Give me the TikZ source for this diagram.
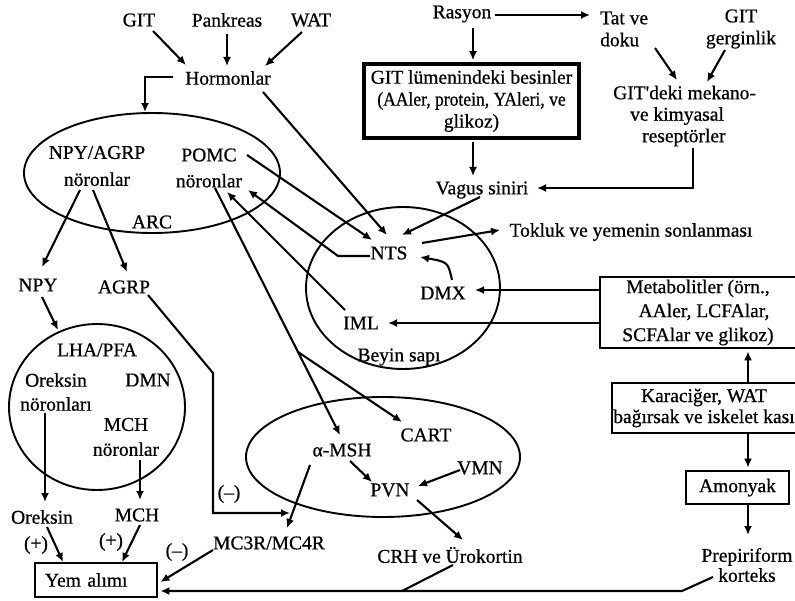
\documentclass[tikz,border=0pt]{standalone}
\usepackage{fontspec}
\usepackage{graphicx}
\setmainfont{Liberation Serif}[FakeBold=0.7]
\usetikzlibrary{arrows.meta,shapes.geometric,calc}
\newcommand\fz[1]{\fontsize{19.5}{#1}\selectfont}
\begin{document}
\begin{tikzpicture}[x=1pt,y=-1pt,
  txt/.style={inner sep=0pt, font=\fz{22}, align=center},
  arr/.style={line width=2.1pt, -{Latex[length=9pt,width=8pt]}},
  ln/.style={line width=2.1pt},
  ell/.style={draw, ellipse, line width=1.9pt, inner sep=0pt},
  box/.style={draw, rectangle, line width=2.8pt, inner sep=0pt, align=center, font=\fz{22}}]
\useasboundingbox (0,0) rectangle (795,601);
% regions
\node[ell, minimum width=256, minimum height=120] (arcell) at (152,173) {};
\node[ell, minimum width=176, minimum height=166] (lhac) at (97,407) {};
\node[ell, minimum width=274, minimum height=120] (hyp) at (383,457) {};
\node[ell, minimum width=194, minimum height=162] (bs) at (403,288) {};
% texts
\node[txt] (git) at (139,20) {GIT};
\node[txt] (pank) at (227,20) {Pankreas};
\node[txt] (wat) at (311,20) {WAT};
\node[txt] (hor) at (228,78) {Hormonlar};
\node[txt, font=\fz{27}] (npyagrp) at (97,166) {NPY/AGRP\\nöronlar};
\node[txt, font=\fz{26}] (pomc) at (209,168) {POMC\\nöronlar};
\node[txt] (arc) at (152,222) {ARC};
\node[txt] (npy) at (38,285) {NPY};
\node[txt] (agrp) at (124,287) {AGRP};
\node[txt] (lha) at (97,350) {LHA/PFA};
\node[txt, font=\fz{24}] (orekn) at (56,392) {Oreksin\\nöronları};
\node[txt] (dmn) at (148,380) {DMN};
\node[txt, font=\fz{25}] (mchn) at (126,437) {MCH\\nöronlar};
\node[txt] (orek) at (42,517) {Oreksin};
\node[txt] (mch) at (137,515) {MCH};
\node[txt] (p1) at (36,545) {(+)};
\node[txt] (p2) at (111,542) {(+)};
\node[box, minimum height=34, text width=102, inner xsep=10pt, align=left] (yem) at (96,580) {Yem alımı};
\node[txt] (m1) at (177,552) {(–)};
\node[txt] (mc) at (269,543) {MC3R/MC4R};
\node[txt] (m2) at (229,494) {(–)};
\node[txt] (msh) at (342,450) {α-MSH};
\node[txt] (cart) at (426,435) {CART};
\node[txt] (vmn) at (480,468) {VMN};
\node[txt] (pvn) at (390,490) {PVN};
\node[txt] (crh) at (450,555) {CRH ve Ürokortin};
\node[txt] (nts) at (389,253) {NTS};
\node[txt] (dmx) at (443,293) {DMX};
\node[txt] (iml) at (361,323) {IML};
\node[txt] (beyin) at (399,357) {Beyin sapı};
\node[txt] (tok) at (631,232) {Tokluk ve yemenin sonlanması};
\node[txt] (vagus) at (482,190) {Vagus siniri};
\node[txt] (ras) at (462,14) {Rasyon};
\node[box, line width=3.5pt, minimum width=215, minimum height=74] (gitbox) at (471.5,101) {GIT lümenindeki besinler\\\scalebox{0.9}[1]{(AAler, protein, YAleri, ve}\\glikoz)};
\node[txt, align=left, anchor=west] (tat) at (600,29) {Tat ve\\doku};
\node[txt] (gerg) at (741,29) {GIT\\gerginlik};
\node[txt, align=left, anchor=west, font=\fz{21.5}] (gitd) at (613,116) {GIT\textquotesingle deki mekano-\\\hspace*{17pt}ve kimyasal\\\hspace*{29pt}reseptörler};
\node[box, minimum width=196, minimum height=71, font=\fz{24}] (met) at (698,312.5) {Metabolitler (örn.,\\\hspace*{12pt}AAler, LCFAlar,\\SCFAlar ve glikoz)};
\node[box, minimum width=184, minimum height=50, font=\fz{21}] (kar) at (704,408) {Karaciğer, WAT\\bağırsak ve iskelet kası};
\node[box, minimum width=103, minimum height=33] (amo) at (737.5,487.5) {Amonyak};
\node[txt, font=\fz{20}] (prep) at (747,565) {Prepiriform\\korteks};
% connectors
\draw[arr] ($(git)+(14,11)$) -- ($(hor)+(-42,-13)$);
\draw[arr] ($(pank)+(0,14)$) -- ($(hor)+(-1,-12)$);
\draw[arr] ($(wat)+(-9,12)$) -- ($(hor)+(37,-12)$);
\draw[arr] ($(hor)+(-55,-1)$) -| ($(arcell.north)+(-7,0)$);
\draw[arr] ($(hor)+(35,14)$) -- ($(nts)+(-2,-18)$);
\draw[arr] ($(pomc)+(38,-13)$) -- ($(nts)+(-17,-13)$);
\draw[arr] ($(nts)+(-19,3)$) -- ($(nts)+(-51,3)$) -- ($(pomc)+(39,22)$);
\draw[arr] ($(iml)+(-16,-13)$) -- ($(pomc)+(18,24)$);
\coordinate (br) at ($(pomc)+(89,184)$);
\draw[arr] ($(pomc)+(6,20)$) -- ($(msh)+(-2,-15)$);
\draw[arr] (br) -- ($(cart)+(-24,-13)$);
\draw[arr] ($(npyagrp)+(-17,24)$) -- ($(npy)+(4,-18)$);
\draw[arr] ($(npyagrp)+(-4,24)$) -- ($(agrp)+(3,-15)$);
\draw[arr] ($(npy)+(4,12)$) -- ($(lhac)+(-39,-77)$);
\draw[arr] ($(agrp)+(24,8)$) -- ($(agrp)+(89,86)$) |- ($(mc)+(21,-30)$);
\draw[arr] ($(msh)+(-32,15)$) -- ($(mc)+(18,-15)$);
\draw[arr] ($(msh)+(8,11)$) -- ($(pvn)+(-18,-8)$);
\draw[arr] ($(vmn)+(-20,2)$) -- ($(pvn)+(28,-4)$);
\draw[arr] ($(pvn)+(27,10)$) -- ($(crh)+(13,-15)$);
\draw[ln] ($(crh)+(3,10)$) -- ($(crh)+(-48,36)$);
\draw[arr] ($(orekn)+(-11,21)$) -- ($(orek)+(3,-15)$);
\draw[arr] ($(mchn)+(14,23)$) -- ($(mch)+(3,-15)$);
\draw[arr] ($(orek)+(5,10)$) -- ($(yem)+(-33,-18)$);
\draw[arr] ($(mch)+(3,10)$) -- ($(yem)+(26,-18)$);
\draw[arr] ($(mc)+(-56,7)$) -- ($(yem.east)+(2,2)$);
\draw[arr] ($(prep)+(-34,12)$) -- ($(prep)+(-65,26)$) -- ($(yem.east)+(2,11)$);
\draw[arr] ($(ras)+(33,1)$) -- ($(tat.west)+(-10,-14)$);
\draw[arr] ($(ras)+(11,14)$) -- ($(gitbox.north)+(1.5,-2)$);
\draw[arr] ($(gitbox.south)+(1.5,2)$) -- ($(vagus)+(-9,-14)$);
\draw[arr] ($(vagus)+(-2,7)$) -- ($(nts)+(13,-18)$);
\draw[arr] ($(tat.west)+(55,19)$) -- ($(gitd.west)+(64,-36)$);
\draw[arr] ($(gerg)+(-16,21)$) -- ($(gitd.west)+(94,-34)$);
\draw[arr] ($(gitd.west)+(80,32)$) |- ($(vagus)+(55,-2)$);
\draw[arr] ($(nts)+(33,-10)$) -- ($(tok)+(-131,-2)$);
\draw[arr] ($(dmx)+(9,-13)$) .. controls ($(dmx)+(5,-31)$) .. ($(nts)+(31,4)$);
\draw[arr] ($(met.west)+(0,-22.5)$) -- ($(dmx)+(32,-3)$);
\draw[arr] ($(met.west)+(0,10.5)$) -- ($(iml)+(27,0)$);
\draw[arr] ($(kar.north)+(44,0)$) -- ($(met.south)+(50,2)$);
\draw[arr] ($(kar.south)+(44,0)$) -- ($(amo.north)+(10.5,-2)$);
\draw[arr] ($(amo.south)+(10.5,0)$) -- ($(prep)+(1,-30)$);
\end{tikzpicture}
\end{document}
